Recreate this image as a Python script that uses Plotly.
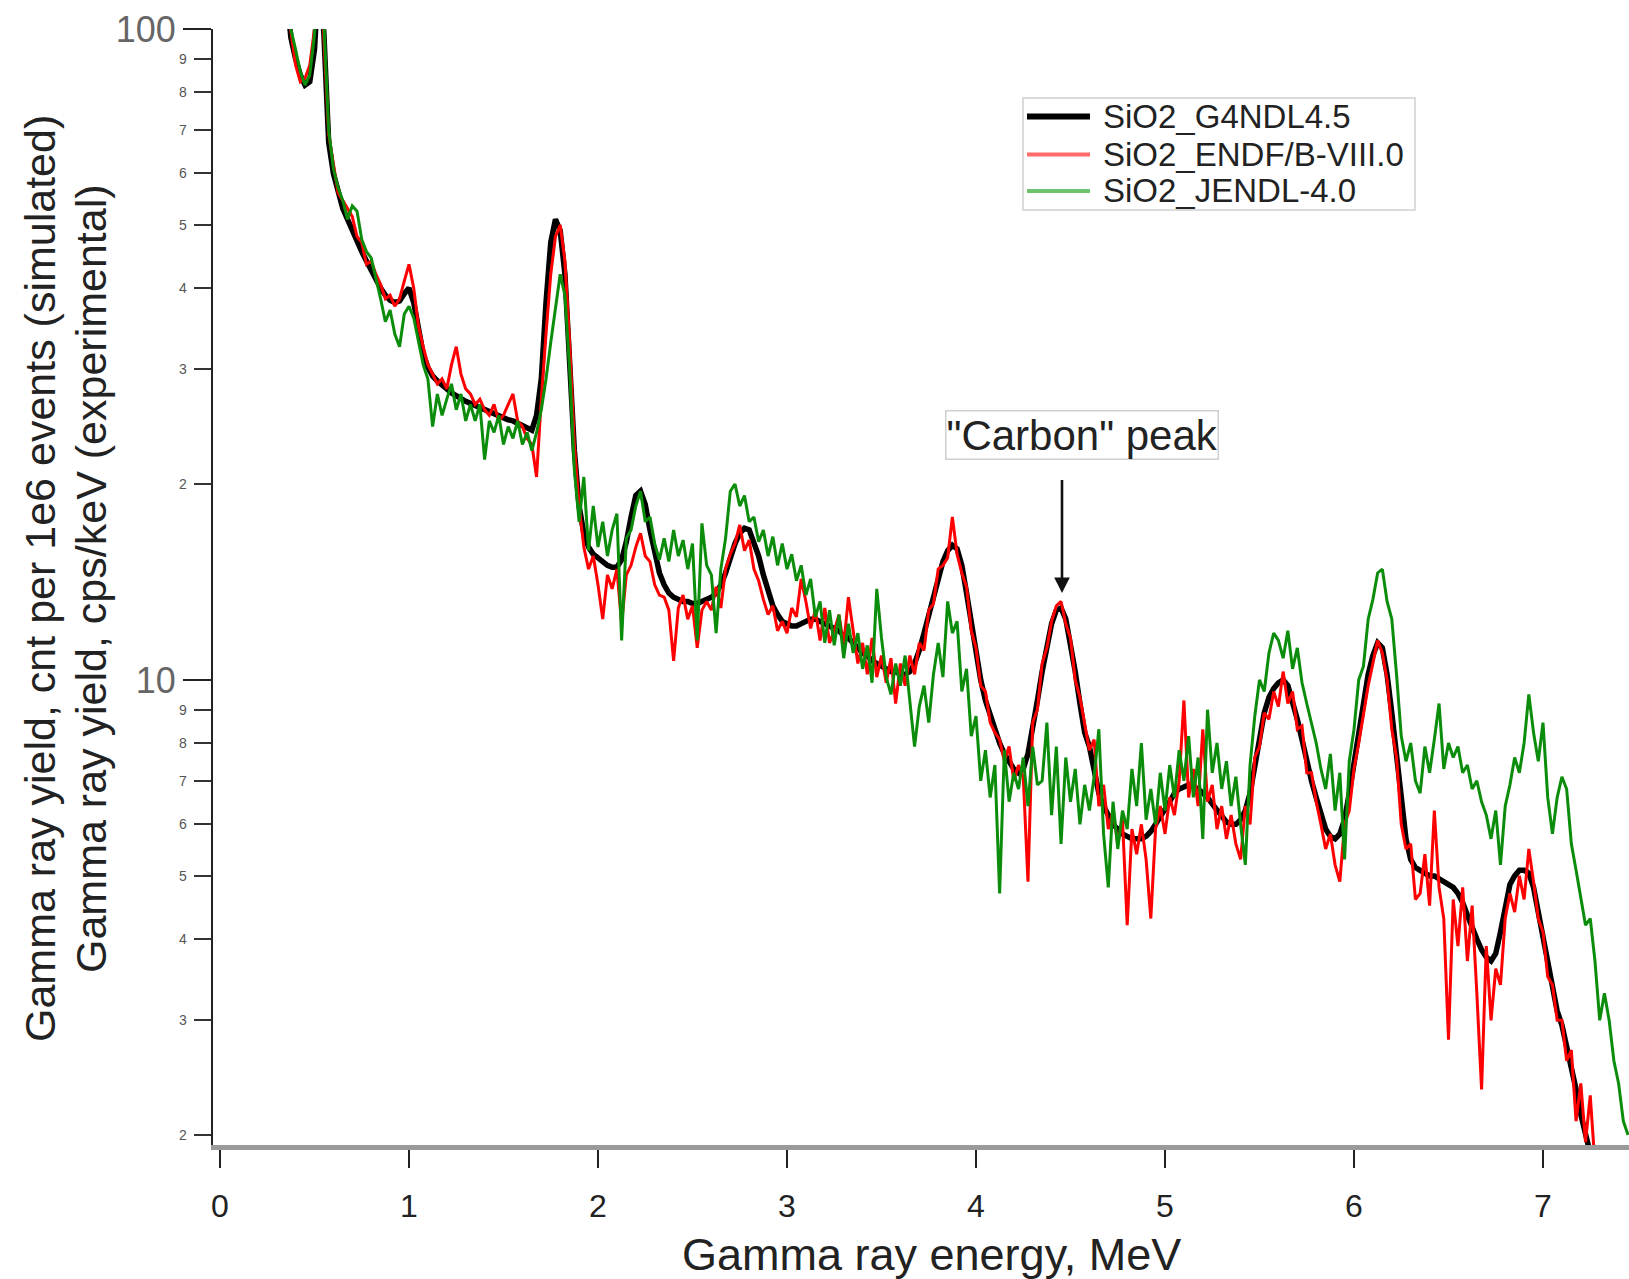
import numpy as np
import plotly.graph_objects as go

# ---------------- data ----------------
ENERGY_START, ENERGY_STOP, ENERGY_STEP = 0.35, 7.45, 0.025
energy_mev = np.round(np.arange(ENERGY_START, ENERGY_STOP + ENERGY_STEP / 2, ENERGY_STEP), 3)

# SiO2_G4NDL4.5  (black)
g4ndl = [
    115, 97, 90, 85, 82, 83, 93, 125, 98, 67,
    60, 56, 53, 51, 49, 47, 45.5, 44, 42.5, 41,
    40, 39, 38.3, 38, 38.2, 39.2, 40, 38, 34.5, 31.7,
    30.2, 29.3, 28.8, 28.3, 28.0, 27.6, 27.3, 27.0, 26.8, 26.6,
    26.4, 26.2, 26.0, 25.8, 25.7, 25.5, 25.3, 25.1, 25.0, 24.8,
    24.6, 24.3, 24.2, 25.5, 29, 38, 47, 51, 49, 42,
    31, 22.5, 18.5, 16.8, 16.0, 15.6, 15.4, 15.2, 15.0, 14.9,
    14.9, 15.3, 16.3, 17.8, 19.2, 19.5, 18.6, 17.0, 15.6, 14.6,
    14.0, 13.6, 13.4, 13.3, 13.2, 13.2, 13.1, 13.1, 13.2, 13.3,
    13.4, 13.6, 14.0, 14.6, 15.4, 16.2, 16.8, 17.1, 17.0, 16.3,
    15.5, 14.5, 13.6, 13.0, 12.6, 12.3, 12.2, 12.1, 12.1, 12.2,
    12.3, 12.4, 12.4, 12.3, 12.2, 12.1, 12.0, 11.9, 11.7, 11.6,
    11.4, 11.2, 11.0, 10.9, 10.7, 10.6, 10.5, 10.4, 10.3, 10.3,
    10.2, 10.2, 10.3, 10.6, 11.1, 11.8, 12.6, 13.5, 14.4, 15.2,
    15.8, 16.1, 15.9, 15.0, 13.6, 12.2, 11.0, 10.0, 9.3, 8.8,
    8.4, 8.0, 7.7, 7.5, 7.3, 7.2, 7.3, 7.7, 8.4, 9.3,
    10.3, 11.3, 12.2, 12.8, 12.9, 12.4, 11.4, 10.3, 9.2, 8.3,
    7.9, 7.2, 6.7, 6.4, 6.2, 6.0, 5.9, 5.8, 5.75, 5.7,
    5.7, 5.7, 5.75, 5.85, 6.0, 6.15, 6.3, 6.5, 6.7, 6.8,
    6.85, 6.9, 6.85, 6.8, 6.7, 6.6, 6.45, 6.3, 6.15, 6.05,
    6.0, 6.0, 6.1, 6.3, 6.7, 7.4, 8.2, 8.9, 9.4, 9.7,
    9.9, 10.0, 9.8, 9.3, 8.7, 8.1, 7.5, 7.0, 6.6, 6.2,
    5.9, 5.75, 5.7, 5.8, 6.1, 6.7, 7.5, 8.4, 9.3, 10.2,
    10.9, 11.4, 11.2, 10.2, 8.9, 7.6, 6.5, 5.7, 5.3, 5.15,
    5.1, 5.05, 5.0, 5.0, 4.95, 4.9, 4.85, 4.8, 4.7, 4.55,
    4.35, 4.15, 4.0, 3.85, 3.75, 3.7, 3.8, 4.1, 4.5, 4.85,
    5.0, 5.1, 5.1, 5.05, 4.8, 4.4, 4.0, 3.65, 3.35, 3.1,
    2.95, 2.75, 2.55, 2.35, 2.15, 2.0, 1.85, 1.75, 1.7, 1.65,
    1.6, 1.6, 1.6, 1.6, 1.6,
]

# SiO2_ENDF/B-VIII.0  (red)
endf = [
    112, 99, 88, 83, 84, 88, 100, 135, 97, 69,
    62, 56, 54.5, 53, 51.5, 48, 47, 43.5, 44, 42,
    40.5, 38.5, 39, 37.5, 38.5, 41, 43.5, 40, 35, 32.5,
    30.5, 29.5, 28.5, 29, 28, 30.5, 32.5, 29.5, 28, 27.5,
    26.5, 27, 26, 25.5, 26.5, 25, 25.5, 26.5, 27.5, 25,
    24.5, 23.5, 23, 20.5, 27, 34, 42, 48, 50, 44,
    33, 23, 18.5, 16, 14.8, 15.5, 14, 12.4, 14.5, 13.8,
    14.8, 12.2, 14.5, 15, 16, 16.8, 15.5, 15.2, 14, 13.5,
    13.4, 12.8, 10.7, 12.9, 13.5, 12.4, 13, 11.2, 12.8, 13.2,
    12.8, 13.9, 12.9, 14.8, 15.6, 16.2, 17.3, 15.8, 16.4, 14.8,
    14.2, 13.3, 12.6, 13.0, 11.9, 12.3, 11.8, 12.9, 12.5, 14.3,
    13.2, 12.0, 12.8, 11.5, 12.9, 11.4, 11.9, 12.6, 11.3, 13.4,
    12.0, 10.6, 11.4, 10.2, 11.6, 10.1, 10.9, 9.9, 10.8, 9.2,
    10.6, 9.8, 10.9, 10.2, 11.4, 11.1, 12.8, 13.1, 14.8, 15.0,
    15.4, 17.8, 15.6, 14.6, 13.9, 11.9, 11.2, 9.8, 9.6, 8.6,
    8.3, 8.1, 7.5, 7.9, 7.0, 7.4, 7.1, 4.9, 8.6, 9.0,
    10.6, 11.2, 12.3, 13.0, 13.2, 12.2, 11.6, 10.0, 9.4, 8.6,
    7.8, 8.1, 6.4, 6.9, 5.9, 6.3, 5.6, 6.1, 4.2, 5.9,
    5.4, 6.0, 5.3, 4.3, 5.9, 6.4, 5.8, 6.6, 6.2, 7.0,
    9.3, 6.6, 7.3, 6.4, 8.4, 6.5, 6.9, 5.9, 6.4, 5.7,
    6.2, 5.6, 5.3, 6.4, 6.0, 7.6, 7.9, 8.9, 8.7, 9.6,
    9.1, 10.3, 9.2, 9.6, 8.4, 8.5, 7.2, 7.2, 6.5, 6.0,
    5.5, 5.8, 5.2, 4.9, 6.0, 6.3, 7.3, 8.0, 8.9, 9.8,
    10.6, 11.5, 11.0, 10.0, 8.4, 7.6, 6.0, 5.5, 5.6, 4.6,
    4.7, 5.4, 4.5, 6.3, 4.8, 4.3, 2.8, 4.6, 3.9, 4.8,
    3.7, 4.5, 3.3, 2.35, 3.9, 3.0, 3.6, 3.4, 4.3, 4.7,
    4.4, 5.0, 4.6, 5.5, 4.9, 4.3, 4.1, 3.5, 3.4, 3.0,
    3.0, 2.6, 2.7, 2.1, 2.4, 1.95, 2.3, 1.8, 1.7, 1.6,
    1.6, 1.6, 1.6, 1.6, 1.6,
]

# SiO2_JENDL-4.0  (green)
jendl = [
    113, 100, 93, 86, 82, 85, 98, 138, 102, 70,
    61, 57, 54.5, 51, 53.5, 52.5, 47.5, 45.5, 44.5, 41.5,
    38.5, 35.5, 37, 34, 32.5, 36.5, 37.5, 36, 33, 30.5,
    29, 24.5, 27.5, 25.5, 27, 28.5, 26, 27.5, 25, 26.5,
    25, 26.5, 21.8, 25, 24, 25.5, 23, 24.5, 23.5, 25,
    23, 24, 22.5, 24, 26, 29, 33, 37, 42, 39,
    30, 21, 17.5, 20.5, 15.8, 18.5, 16, 17.5, 15.5, 17,
    18, 11.5, 16.5, 17, 18.5, 19.5, 17.5, 17.8, 16.2, 15.3,
    16.5, 15.2, 17.0, 15.5, 16.4, 14.8, 16.2, 11.5, 17.4, 15.0,
    14.5, 11.8, 14.8, 16.5, 19.5, 20.0, 18.5, 19.2, 17.5, 17.8,
    16.3, 17.0, 15.5, 16.6, 15.0, 16.2, 14.8, 15.6, 14.2, 15.0,
    13.5, 14.3, 12.5, 13.2, 11.4, 12.8, 11.3, 12.6, 10.8, 12.2,
    11.0, 11.8, 10.4, 11.3, 9.9, 13.8, 11.6, 10.1, 9.5, 10.6,
    9.8, 10.9, 9.3, 7.9, 9.1, 9.8, 8.6, 10.2, 11.4, 10.1,
    13.2, 11.8, 12.3, 9.6, 10.4, 8.2, 8.8, 7.0, 7.8, 6.6,
    7.4, 4.7, 7.8, 6.5, 7.2, 6.8, 7.6, 6.4, 7.9, 6.9,
    7.0, 8.6, 6.2, 7.9, 5.6, 7.6, 6.5, 7.3, 6.0, 6.9,
    6.3, 7.1, 8.4, 5.8, 4.8, 6.5, 5.5, 6.3, 5.9, 7.3,
    6.4, 8.0, 6.1, 6.8, 6.0, 7.2, 6.3, 7.4, 6.6, 7.8,
    7.0, 8.2, 6.6, 7.6, 5.7, 9.0, 7.2, 8.0, 6.8, 7.5,
    6.4, 7.1, 6.0, 5.2, 7.4, 8.8, 10.0, 9.6, 11.0, 11.8,
    11.5, 10.8, 11.9, 10.4, 11.2, 9.9, 9.2, 8.6, 8.0, 7.3,
    6.8, 7.7, 6.3, 7.2, 5.3, 7.5, 8.4, 10.0, 10.5, 12.4,
    13.3, 14.6, 14.8, 13.2, 12.4, 10.2, 8.2, 7.5, 8.0, 7.0,
    6.7, 7.9, 7.2, 8.1, 9.2, 7.3, 8.0, 7.6, 7.9, 7.2,
    7.4, 6.8, 7.0, 6.5, 6.2, 5.7, 6.3, 5.2, 6.4, 6.9,
    7.6, 7.2, 8.0, 9.5, 8.3, 7.5, 8.6, 6.6, 5.8, 6.6,
    7.1, 6.8, 5.6, 5.1, 4.6, 4.2, 4.3, 3.7, 3.0, 3.3,
    3.0, 2.6, 2.4, 2.1, 2.0,
]

series_names = ["SiO2_G4NDL4.5", "SiO2_ENDF/B-VIII.0", "SiO2_JENDL-4.0"]
series_colors = ["#000000", "#ff0000", "#0b8d0b"]
legend_colors = ["#000000", "#ff6b6b", "#6cc46c"]
series_widths = [5.5, 3, 3]
legend_widths = [6, 4, 4]

x_tick_values = [0, 1, 2, 3, 4, 5, 6, 7]
y_major_ticks = [10, 100]
y_major_labels = ["10", "100"]
y_minor_ticks = [2, 3, 4, 5, 6, 7, 8, 9, 20, 30, 40, 50, 60, 70, 80, 90]
y_minor_labels = ["2", "3", "4", "5", "6", "7", "8", "9", "2", "3", "4", "5", "6", "7", "8", "9"]

carbon_peak_energy = 4.455
carbon_arrow_tip = 13.6
carbon_arrow_tail = 20.4
carbon_label_energy = 4.56
carbon_label_value = 23.8

assert len(g4ndl) == len(energy_mev) == len(endf) == len(jendl)

# ---------------- figure ----------------
W, H = 1629, 1279
ML, MR, MT, MB = 213, 0, 29, 134
PW, PH = W - ML - MR, H - MT - MB


def px_x(px):
    return (px - ML) / PW


def px_y(py):
    return (H - MB - py) / PH


FONT = "Liberation Sans, Arial, Helvetica, sans-serif"
fig = go.Figure()
for name, vals, col, wid in zip(series_names, [g4ndl, endf, jendl], series_colors, series_widths):
    fig.add_trace(go.Scatter(x=energy_mev, y=vals, mode="lines", name=name,
                             line=dict(color=col, width=wid), showlegend=False))

fig.update_layout(
    width=W, height=H,
    margin=dict(l=ML, r=MR, t=MT, b=MB),
    paper_bgcolor="white", plot_bgcolor="white",
    font=dict(family=FONT, color="#222"),
    showlegend=False,
)

fig.update_xaxes(
    range=[-0.037, 7.455], tickvals=x_tick_values,
    ticks="outside", ticklen=18, tickwidth=2, tickcolor="#222",
    showline=True, linecolor="#9a9a9a", linewidth=5,
    showgrid=False, zeroline=False,
    tickfont=dict(size=32, color="#222"), ticklabelstandoff=11,
)
fig.update_yaxes(
    type="log", range=[np.log10(1.93), 2],
    tickvals=y_major_ticks, ticktext=y_major_labels,
    ticks="outside", ticklen=28, tickwidth=2, tickcolor="#222",
    showline=True, linecolor="#222", linewidth=2,
    showgrid=False, zeroline=False,
    tickfont=dict(size=36, color="#666"), ticklabelstandoff=0,
    minor=dict(tickvals=y_minor_ticks, ticks="outside", ticklen=17,
               tickwidth=2, tickcolor="#333", showgrid=False),
)

# small labels on minor ticks
for v, lab in zip(y_minor_ticks, y_minor_labels):
    fig.add_annotation(x=px_x(183), xref="paper", y=np.log10(v), yref="y",
                       text=lab, showarrow=False, xanchor="center", yanchor="middle",
                       font=dict(size=14, color="#555"))

# axis titles
fig.add_annotation(x=px_x(931), y=px_y(1254), xref="paper", yref="paper",
                   text="Gamma ray energy, MeV", showarrow=False,
                   xanchor="center", yanchor="middle",
                   font=dict(size=45, color="#222"))
fig.add_annotation(x=px_x(40), y=px_y(579), xref="paper", yref="paper",
                   text="Gamma ray yield, cnt per 1e6 events (simulated)",
                   showarrow=False, textangle=-90, xanchor="center", yanchor="middle",
                   font=dict(size=43, color="#222"))
fig.add_annotation(x=px_x(91), y=px_y(579), xref="paper", yref="paper",
                   text="Gamma ray yield, cps/keV (experimental)",
                   showarrow=False, textangle=-90, xanchor="center", yanchor="middle",
                   font=dict(size=43, color="#222"))

# legend box (drawn to match the reference's compact legend)
fig.add_shape(type="rect", xref="paper", yref="paper",
              x0=px_x(1023), x1=px_x(1415), y0=px_y(210), y1=px_y(98),
              line=dict(color="#cfcfcf", width=1.5), fillcolor="white", layer="above")
legend_rows_px = [116.5, 154.5, 191]
for name, col, wid, ry in zip(series_names, legend_colors, legend_widths, legend_rows_px):
    fig.add_shape(type="line", xref="paper", yref="paper",
                  x0=px_x(1027), x1=px_x(1090), y0=px_y(ry), y1=px_y(ry),
                  line=dict(color=col, width=wid), layer="above")
    fig.add_annotation(x=px_x(1101), y=px_y(ry), xref="paper", yref="paper",
                       text=name, showarrow=False, xanchor="left", yanchor="middle",
                       font=dict(size=33, color="#222"))

# "Carbon" peak label and arrow
fig.add_annotation(x=carbon_label_energy, y=np.log10(carbon_label_value), xref="x", yref="y",
                   text='"Carbon" peak', showarrow=False,
                   font=dict(size=42, color="#222"), bgcolor="white",
                   bordercolor="#cfcfcf", borderwidth=1.5, borderpad=0)
fig.add_annotation(x=carbon_peak_energy, y=np.log10(carbon_arrow_tip), xref="x", yref="y",
                   ax=carbon_peak_energy, ay=np.log10(carbon_arrow_tail), axref="x", ayref="y",
                   text="", showarrow=True, arrowhead=2, arrowsize=1.2,
                   arrowwidth=2.6, arrowcolor="#111")

fig.write_html("out.html")
